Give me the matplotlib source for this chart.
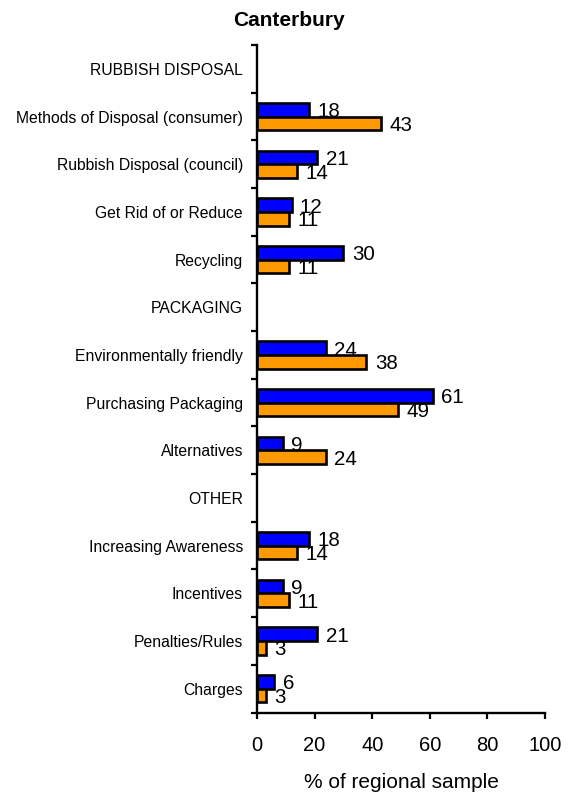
import numpy as np
import matplotlib
matplotlib.use("Agg")
import matplotlib.pyplot as plt

plt.rcParams['font.family'] = ['Liberation Sans', 'DejaVu Sans']

categories = [
    "RUBBISH DISPOSAL",
    "Methods of Disposal (consumer)",
    "Rubbish Disposal (council)",
    "Get Rid of or Reduce",
    "Recycling",
    "PACKAGING",
    "Environmentally friendly",
    "Purchasing Packaging",
    "Alternatives",
    "OTHER",
    "Increasing Awareness",
    "Incentives",
    "Penalties/Rules",
    "Charges",
]
series_blue = [None, 18, 21, 12, 30, None, 24, 61, 9, None, 18, 9, 21, 6]
series_orange = [None, 43, 14, 11, 11, None, 38, 49, 24, None, 14, 11, 3, 3]
x_ticks = [0, 20, 40, 60, 80, 100]
title = "Canterbury"
xlabel = "% of regional sample"

W, H = 569, 796
fig = plt.figure(figsize=(W / 100, H / 100), dpi=100)
ax = fig.add_axes([257 / W, 1 - 712.5 / H, (545 - 257) / W, (712.5 - 45) / H])

bh = 0.286
for i, (b, o) in enumerate(zip(series_blue, series_orange)):
    if b is not None:
        ax.barh(i - bh / 2, b, height=bh, color="#0000FF", edgecolor="black",
                linewidth=1.9, zorder=3)
        ax.annotate(str(b), xy=(b, i - bh / 2), xytext=(6, 0),
                    textcoords="offset points", ha="left", va="center_baseline",
                    fontsize=14.8, zorder=2)
    if o is not None:
        ax.barh(i + bh / 2, o, height=bh, color="#FF9900", edgecolor="black",
                linewidth=1.9, zorder=3)
        ax.annotate(str(o), xy=(o, i + bh / 2), xytext=(6, 0),
                    textcoords="offset points", ha="left", va="center_baseline",
                    fontsize=14.8, zorder=2)

n = len(categories)
ax.set_ylim(n - 0.5, -0.5)
ax.set_xlim(0, 100)
ax.set_yticks(np.arange(n))
ax.set_yticklabels(categories, fontsize=11.3)
ax.set_yticks(np.arange(n + 1) - 0.5, minor=True)
ax.tick_params(axis='y', which='major', length=0, pad=10)
ax.tick_params(axis='y', which='minor', length=4, width=1.6, direction='out')
ax.set_xticks(x_ticks)
ax.set_xticklabels([str(t) for t in x_ticks], fontsize=14.5)
ax.tick_params(axis='x', which='major', length=4.5, width=1.6, direction='out', pad=12.5)

for s in ['top', 'right']:
    ax.spines[s].set_visible(False)
for s in ['left', 'bottom']:
    ax.spines[s].set_linewidth(1.7)

fig.text(289 / W, 1 - 26.5 / H, title, ha='center', va='baseline',
         fontsize=15, fontweight='bold')
fig.text(401 / W, 1 - 788 / H, xlabel, ha='center', va='baseline', fontsize=15)

fig.savefig("out.png", dpi=100)
